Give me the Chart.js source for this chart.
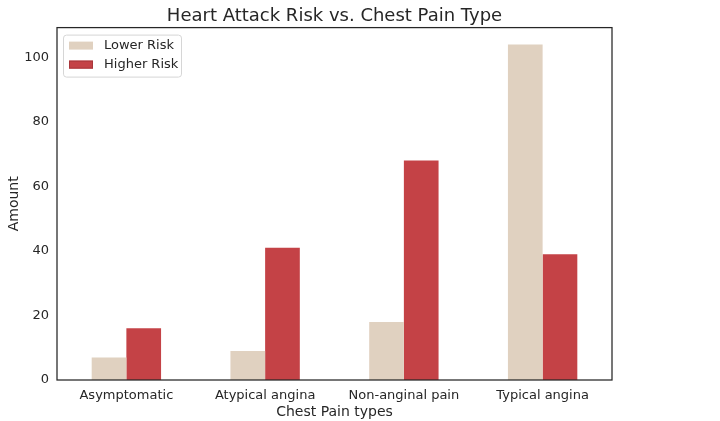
<!DOCTYPE html>
<html>
<head>
<meta charset="utf-8">
<title>Heart Attack Risk vs. Chest Pain Type</title>
<script src="https://cdn.jsdelivr.net/npm/chart.js@4/dist/chart.umd.min.js"></script>
<style>
  html, body { margin: 0; padding: 0; background: #fff; }
  #wrap { width: 720px; height: 421px; }
</style>
</head>
<body>
<div id="wrap"><canvas id="risk-chart" width="720" height="421"></canvas></div>
<script>
// values
var painTypes = ['Asymptomatic', 'Atypical angina', 'Non-anginal pain', 'Typical angina'];
var lowerRisk = [7, 9, 18, 104];
var higherRisk = [16, 41, 68, 39];
var yTicks = [0, 20, 40, 60, 80, 100];

(function render(win, doc) {
  var textColor = '#262626';
  var fontFamily = '"DejaVu Sans", sans-serif';

  // frame round the plot, like matplotlib spines
  var framePlugin = {
    id: 'frame',
    afterDatasetsDraw: function (chart) {
      var a = chart.chartArea;
      var ctx = chart.ctx;
      ctx.save();
      ctx.strokeStyle = textColor;
      ctx.lineWidth = 1.25;
      ctx.strokeRect(a.left, a.top, a.right - a.left, a.bottom - a.top);
      ctx.restore();
    }
  };

  // legend drawn inside the plot, upper left
  var insideLegend = {
    id: 'insideLegend',
    afterDraw: function (chart) {
      var a = chart.chartArea;
      var ctx = chart.ctx;
      var x = a.left + 6, y = a.top + 7, w = 118, h = 42;
      ctx.save();
      ctx.fillStyle = 'rgba(255,255,255,0.8)';
      ctx.strokeStyle = '#d6d6d6';
      ctx.lineWidth = 1;
      ctx.beginPath();
      ctx.roundRect(x + 0.5, y + 0.5, w, h, 3);
      ctx.fill();
      ctx.stroke();
      ctx.font = '13px ' + fontFamily;
      ctx.textBaseline = 'middle';
      chart.data.datasets.forEach(function (ds, i) {
        var rowY = y + 11 + i * 19;
        ctx.fillStyle = ds.backgroundColor;
        ctx.fillRect(x + 6, rowY - 4, 24, 8);
        if (ds.legendEdge) {
          ctx.strokeStyle = ds.legendEdge;
          ctx.strokeRect(x + 6.5, rowY - 3.5, 23, 7);
        }
        ctx.fillStyle = textColor;
        ctx.fillText(ds.label, x + 41, rowY);
      });
      ctx.restore();
    }
  };

  var ctx = doc.querySelector('#risk-chart').getContext('2d');

  new Chart(ctx, {
    type: 'bar',
    data: {
      labels: painTypes,
      datasets: [
        {
          label: 'Lower Risk',
          data: lowerRisk,
          backgroundColor: '#e0d1c0',
          categoryPercentage: 0.5,
          barPercentage: 1.0
        },
        {
          label: 'Higher Risk',
          data: higherRisk,
          backgroundColor: '#c44246',
          legendEdge: '#a8363a',
          categoryPercentage: 0.5,
          barPercentage: 1.0
        }
      ]
    },
    options: {
      responsive: false,
      animation: false,
      devicePixelRatio: 1,
      layout: { padding: { left: 0, right: 108, top: 0, bottom: 0 } },
      plugins: {
        legend: { display: false },
        tooltip: { enabled: false },
        title: {
          display: true,
          fullSize: false,
          text: 'Heart Attack Risk vs. Chest Pain Type',
          color: textColor,
          font: { family: fontFamily, size: 18, weight: 'normal', lineHeight: 1.2 },
          padding: { top: 6, bottom: 0 }
        }
      },
      scales: {
        x: {
          offset: true,
          grid: { display: false, drawTicks: false },
          border: { display: false },
          ticks: {
            color: textColor,
            padding: 8,
            font: { family: fontFamily, size: 13 }
          },
          title: {
            display: true,
            text: 'Chest Pain types',
            color: textColor,
            font: { family: fontFamily, size: 14 },
            padding: { top: 0, bottom: 0 }
          },
          afterFit: function (scale) { scale.height = 41; }
        },
        y: {
          min: 0,
          max: 109.2,
          afterBuildTicks: function (scale) {
            scale.ticks = yTicks.map(function (v) { return { value: v }; });
          },
          grid: { display: false, drawTicks: false },
          border: { display: false },
          ticks: {
            color: textColor,
            padding: 8,
            font: { family: fontFamily, size: 13 }
          },
          title: {
            display: true,
            text: 'Amount',
            color: textColor,
            font: { family: fontFamily, size: 14 },
            padding: { top: 6, bottom: 0 }
          },
          afterFit: function (scale) { scale.width = 57; }
        }
      }
    },
    plugins: [framePlugin, insideLegend]
  });
})(window, document);
</script>
</body>
</html>
